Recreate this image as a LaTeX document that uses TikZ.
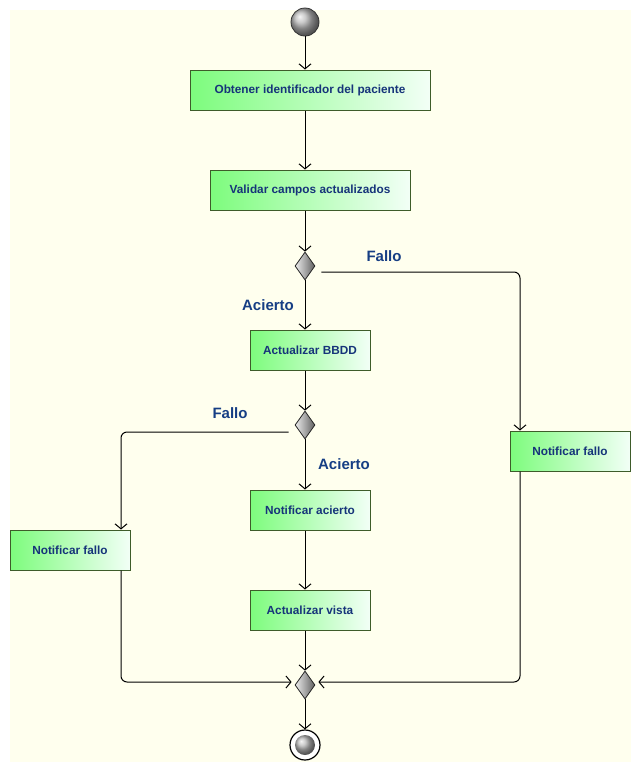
\documentclass[tikz,border=0pt]{standalone}
\usepackage{fontspec}
\setmainfont{Liberation Sans}
\usetikzlibrary{arrows.meta,shapes.geometric}
\definecolor{bgyellow}{RGB}{255,255,238}
\definecolor{boxgreen}{RGB}{125,252,125}
\definecolor{boxwhite}{RGB}{242,255,246}
\definecolor{boxborder}{RGB}{62,92,42}
\definecolor{textblue}{RGB}{22,52,122}
\definecolor{labelblue}{RGB}{22,62,132}
\tikzset{
    % activity box style
    activity/.style = {rectangle, draw=boxborder, line width=1pt, left color=boxgreen, right color=boxwhite, minimum height=40pt, inner sep=0pt, text=textblue, font=\fontsize{11.8}{13}\selectfont\bfseries},
    % decision diamond style
    decision/.style = {diamond, draw=gray!30!black, line width=0.8pt, left color=gray!15, right color=gray!75!black, minimum width=20pt, minimum height=28pt, inner sep=0pt, aspect=0.7},
    % start ball style
    startball/.style = {circle, draw=black!80, line width=0.8pt, shading=ball, ball color=gray!55, minimum size=28pt, inner sep=0pt},
    % guard label style
    guard/.style = {text=labelblue, font=\fontsize{15}{17}\selectfont\bfseries},
    % flow arrow style
    flow/.style = {line width=1pt, -{Straight Barb[length=5pt, width=12pt]}, rounded corners=6pt}
}

\begin{document}
\begin{tikzpicture}[x=1pt, y=-1pt]
        % background and page size
        \fill[bgyellow] (10,10) rectangle (631,762);
        \useasboundingbox (0,0) rectangle (641,772);
        % lanes for the side branches
        \coordinate (mainlane) at (305,0);
        \coordinate (leftlane) at (121,0);
        \coordinate (rightlane) at (520,0);
        % initial node
        \node[startball] (start) at (305,22) {};
        % activities on the main path
        \node[activity, minimum width=240pt] (obtener) at (310,90) {Obtener identificador del paciente};
        \node[activity, minimum width=200pt] (validar) at (310,190) {Validar campos actualizados};
        \node[decision] (dec1) at (305,266) {};
        \node[activity, minimum width=120pt] (bbdd) at (310,350) {Actualizar BBDD};
        \node[decision] (dec2) at (305,425) {};
        \node[activity, minimum width=120pt] (notacierto) at (310,510) {Notificar acierto};
        \node[activity, minimum width=120pt] (vista) at (310,610) {Actualizar vista};
        \node[decision] (merge) at (305,685) {};
        % failure activities
        \node[activity, minimum width=120pt] (falloizq) at (70,550) {Notificar fallo};
        \node[activity, minimum width=120pt] (falloder) at (570,451) {Notificar fallo};
        % final node
        \node[circle, draw=black, line width=1.2pt, fill=white, minimum size=30pt, inner sep=0pt] (end) at (305,745) {};
        \node[startball, draw=none, minimum size=20pt] (endball) at (end) {};

        % guard labels
        \node[guard] (fallo1) at (384,256) {Fallo};
        \node[guard] (acierto1) at (268,305) {Acierto};
        \node[guard] (fallo2) at (230,413) {Fallo};
        \node[guard] (acierto2) at (344,464) {Acierto};

        % main flow
        \draw[flow] (start) -- (mainlane |- obtener.north);
        \draw[flow] (mainlane |- obtener.south) -- (mainlane |- validar.north);
        \draw[flow] (mainlane |- validar.south) -- (dec1);
        \draw[flow] (dec1) -- (mainlane |- bbdd.north);
        \draw[flow] (mainlane |- bbdd.south) -- (dec2);
        \draw[flow] (dec2) -- (mainlane |- notacierto.north);
        \draw[flow] (mainlane |- notacierto.south) -- (mainlane |- vista.north);
        \draw[flow] (mainlane |- vista.south) -- (merge);
        \draw[flow] (merge) -- (end);
        % failure branches
        \draw[flow, shorten <=6pt] ([yshift=-6pt]dec1.east) -| (rightlane |- falloder.north);
        \draw[flow, shorten <=6pt] ([yshift=-7pt]dec2.west) -| (leftlane |- falloizq.north);
        \draw[flow, shorten >=3pt] (leftlane |- falloizq.south) |- ([yshift=3pt]merge.west);
        \draw[flow, shorten >=3pt] (rightlane |- falloder.south) |- ([yshift=3pt]merge.east);
\end{tikzpicture}
\end{document}
